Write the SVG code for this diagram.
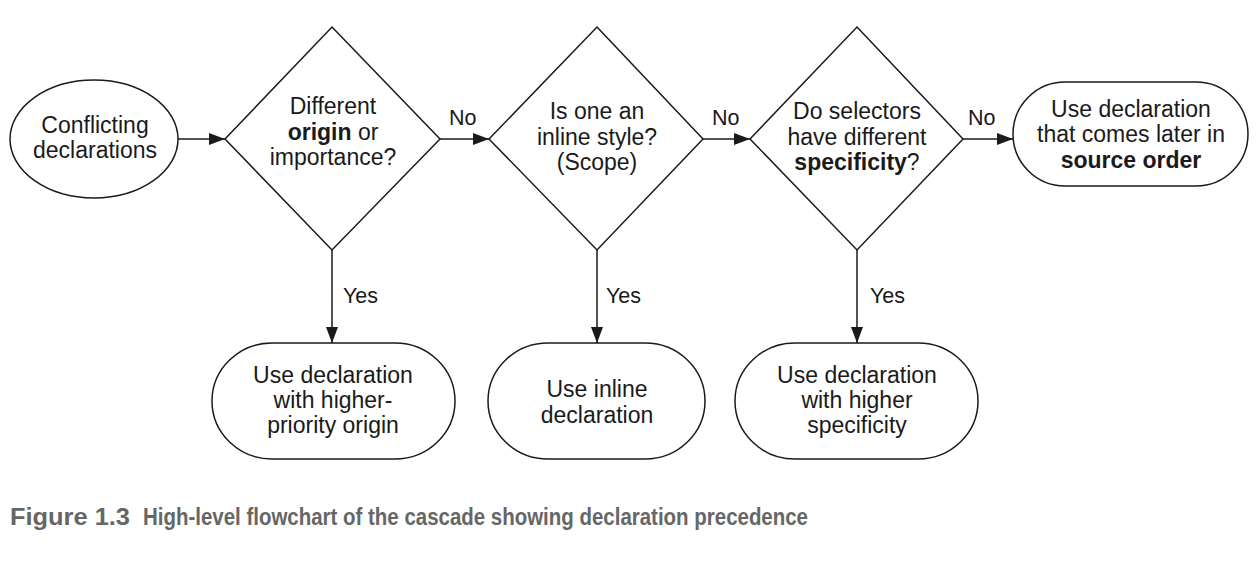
<svg xmlns="http://www.w3.org/2000/svg" width="1260" height="564" viewBox="0 0 1260 564">
<style>
.s{fill:#fff;stroke:#1a1a1a;stroke-width:1.5}
.t{font-family:"Liberation Sans",Arial,sans-serif;font-size:23px;fill:#1a1a1a;text-anchor:middle}
.l{font-family:"Liberation Sans",Arial,sans-serif;font-size:21.5px;fill:#1a1a1a}
.b{font-weight:bold}
.c{stroke:#1a1a1a;stroke-width:1.5;fill:none;marker-end:url(#a)}
.cap{font-family:"Liberation Sans",Arial,sans-serif;font-size:23px;font-weight:bold;fill:#666}
</style>
<defs>
<marker id="a" markerWidth="16" markerHeight="12" refX="16" refY="6" orient="auto" markerUnits="userSpaceOnUse">
<path d="M0,0 L16,6 L0,12 Z" fill="#1a1a1a"/>
</marker>
</defs>
<rect width="1260" height="564" fill="#fff"/>
<g id="connectors">
<line class="c" x1="178" y1="139" x2="225" y2="139"/>
<line class="c" x1="440" y1="139" x2="489" y2="139"/>
<line class="c" x1="703" y1="139" x2="750" y2="139"/>
<line class="c" x1="963" y1="139" x2="1013" y2="139"/>
<line class="c" x1="332" y1="250" x2="332" y2="343"/>
<line class="c" x1="597" y1="250" x2="597" y2="343"/>
<line class="c" x1="857" y1="250" x2="857" y2="343"/>
<text class="l" x="449" y="125">No</text>
<text class="l" x="712" y="125">No</text>
<text class="l" x="968" y="125">No</text>
<text class="l" x="343" y="303">Yes</text>
<text class="l" x="606" y="303">Yes</text>
<text class="l" x="870" y="303">Yes</text>
</g>
<g id="start">
<ellipse class="s" cx="94" cy="139" rx="84" ry="59"/>
<text class="t" x="95" y="133">Conflicting</text>
<text class="t" x="95" y="158">declarations</text>
</g>
<g id="origin">
<polygon class="s" points="332,27 440,139 332,250 225,139"/>
<text class="t" x="333" y="114">Different</text>
<text class="t" x="333" y="140"><tspan class="b">origin</tspan> or</text>
<text class="t" x="333" y="165">importance?</text>
</g>
<g id="inline">
<polygon class="s" points="597,27 703,139 597,250 489,139"/>
<text class="t" x="597" y="119">Is one an</text>
<text class="t" x="597" y="145">inline style?</text>
<text class="t" x="597" y="170">(Scope)</text>
</g>
<g id="specificity">
<polygon class="s" points="857,27 963,139 857,250 750,139"/>
<text class="t" x="857" y="119">Do selectors</text>
<text class="t" x="857" y="145">have different</text>
<text class="t" x="857" y="170"><tspan class="b">specificity</tspan>?</text>
</g>
<g id="source-order">
<rect class="s" x="1013" y="82" width="235" height="104" rx="52" ry="52"/>
<text class="t" x="1131" y="117">Use declaration</text>
<text class="t" x="1131" y="142">that comes later in</text>
<text class="t b" x="1131" y="168">source order</text>
</g>
<g id="use-origin">
<rect class="s" x="212" y="343" width="243" height="116" rx="60" ry="58"/>
<text class="t" x="333" y="383">Use declaration</text>
<text class="t" x="333" y="408">with higher-</text>
<text class="t" x="333" y="433">priority origin</text>
</g>
<g id="use-inline">
<rect class="s" x="488" y="343" width="217" height="116" rx="60" ry="58"/>
<text class="t" x="597" y="397">Use inline</text>
<text class="t" x="597" y="423">declaration</text>
</g>
<g id="use-specificity">
<rect class="s" x="735" y="343" width="243" height="116" rx="60" ry="58"/>
<text class="t" x="857" y="383">Use declaration</text>
<text class="t" x="857" y="408">with higher</text>
<text class="t" x="857" y="433">specificity</text>
</g>
<text class="cap" x="10" y="525" textLength="120" lengthAdjust="spacingAndGlyphs">Figure 1.3</text>
<text class="cap" x="143" y="525" textLength="665" lengthAdjust="spacingAndGlyphs">High-level flowchart of the cascade showing declaration precedence</text>
</svg>
